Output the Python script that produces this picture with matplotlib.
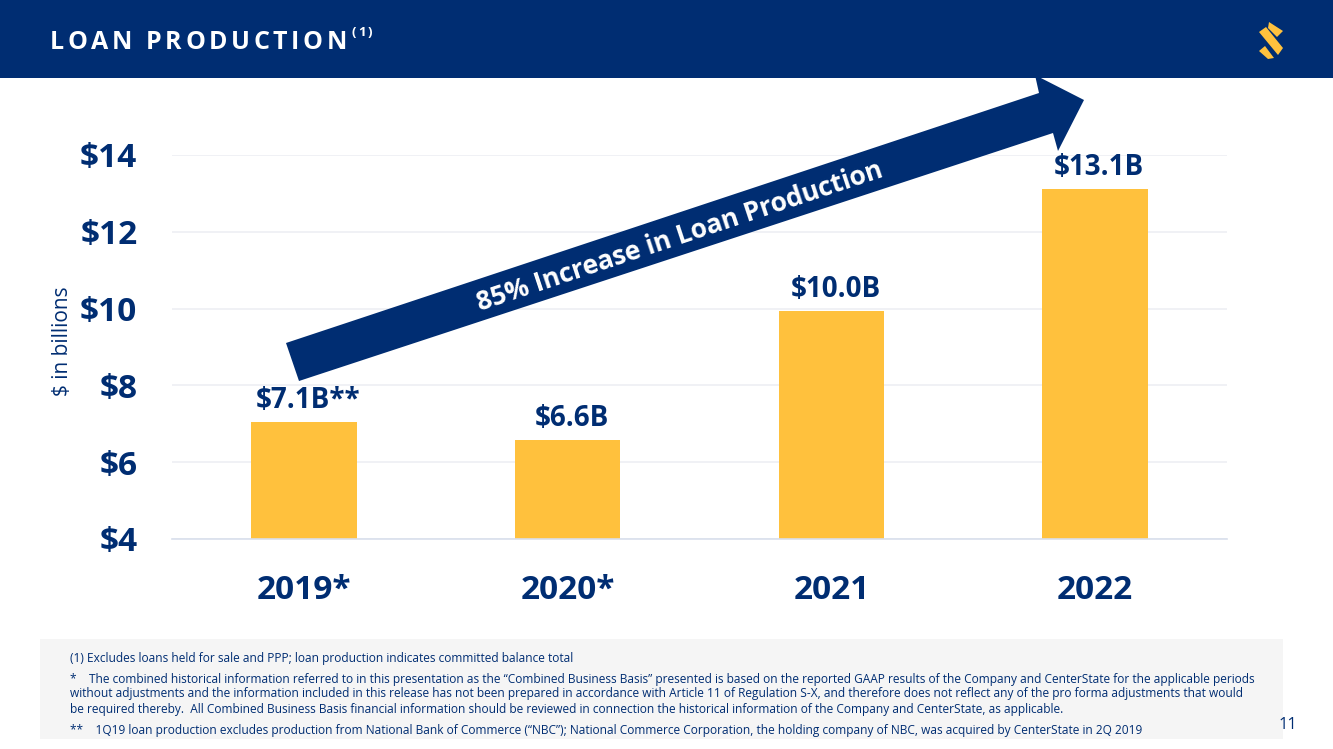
import matplotlib
matplotlib.use('Agg')
import matplotlib.pyplot as plt
from matplotlib.patches import Polygon, Rectangle

plt.rcParams['font.family'] = ['Open Sans', 'DejaVu Sans']

years = ['2019*', '2020*', '2021', '2022']
loan_production = [7.05, 6.58, 9.95, 13.12]
value_labels = ['$7.1B**', '$6.6B', '$10.0B', '$13.1B']
y_ticks = [4, 6, 8, 10, 12, 14]
y_tick_labels = ['$4', '$6', '$8', '$10', '$12', '$14']

title = 'LOAN PRODUCTION'
arrow_text = '85% Increase in Loan Production'
footnotes = [
    (661, '(1) Excludes loans held for sale and PPP; loan production indicates committed balance total'),
    (682, '*    The combined historical information referred to in this presentation as the “Combined Business Basis” presented is based on the reported GAAP results of the Company and CenterState for the applicable periods'),
    (696, 'without adjustments and the information included in this release has not been prepared in accordance with Article 11 of Regulation S-X, and therefore does not reflect any of the pro forma adjustments that would'),
    (711.5, 'be required thereby.  All Combined Business Basis financial information should be reviewed in connection the historical information of the Company and CenterState, as applicable.'),
    (733, '**    1Q19 loan production excludes production from National Bank of Commerce (“NBC”); National Commerce Corporation, the holding company of NBC, was acquired by CenterState in 2Q 2019'),
]

navy = '#002D72'
gold = '#FFC13D'
W, H = 1333, 749

fig = plt.figure(figsize=(W / 100, H / 100), dpi=100, facecolor='white')

######### chart
ax = fig.add_axes([172 / W, (H - 539) / H, 1055 / W, 384 / H])
ax.bar(range(len(years)), loan_production, width=0.4, color=gold, zorder=2)
for i, label in enumerate(value_labels):
    ax.annotate(label, (i, loan_production[i]), xytext=(3, 5), textcoords='offset points',
                ha='center', va='bottom', fontsize=20, fontweight='bold', color=navy, zorder=3)
ax.set_xlim(-0.5, 3.5)
ax.set_ylim(4, 14)
ax.set_yticks(y_ticks)
ax.set_yticklabels(y_tick_labels, fontsize=24, fontweight='bold', color=navy)
ax.set_xticks(range(len(years)))
ax.set_xticklabels(years, fontsize=24, fontweight='bold', color=navy)
ax.tick_params(axis='both', length=0)
ax.tick_params(axis='x', pad=25)
ax.tick_params(axis='y', pad=25)
ax.grid(axis='y', color='#EDEFF4', lw=1.2, zorder=0)
ax.set_axisbelow(True)
for s in ['top', 'right', 'left']:
    ax.spines[s].set_visible(False)
ax.spines['bottom'].set_color('#D9DFEC')
ax.spines['bottom'].set_linewidth(1.2)

######### overlay in pixel coordinates
ov = fig.add_axes([0, 0, 1, 1], facecolor='none')
ov.set_xlim(0, W)
ov.set_ylim(H, 0)
ov.axis('off')

ov.add_patch(Rectangle((0, 0), W, 78, color=navy, lw=0))
ov.add_patch(Rectangle((40, 639), 1243, 100, color='#F5F5F5', lw=0))

fig.canvas.draw()
renderer = fig.canvas.get_renderer()


def spaced_text(x, y, s, size, gap, space_w=6):
    # matplotlib has no letter spacing, place the characters one by one
    for ch in s:
        t = ov.text(x, y, ch, color='white', fontsize=size, fontweight='bold', va='baseline', ha='left')
        w = t.get_window_extent(renderer).width if ch != ' ' else space_w
        x += w + gap
    return x


x_end = spaced_text(50, 49, title, 18, 3.6)
spaced_text(x_end + 1, 36, '(1)', 9.5, 2.2)

# logo
for pts in [[(1269, 22), (1283, 31), (1277, 37), (1268, 28)],
            [(1259, 32), (1266, 27), (1283, 48), (1278, 55)],
            [(1259, 51), (1265, 46), (1274, 58), (1268, 59)]]:
    ov.add_patch(Polygon(pts, closed=True, color=gold, lw=0, joinstyle='round'))

# big arrow
ov.add_patch(Polygon([(286, 343), (1039, 93), (1035, 75), (1084, 100),
                      (1058, 151), (1053, 133), (299, 381)],
                     closed=True, color=navy, lw=0, zorder=4))
ov.text(680, 237, arrow_text, color='white', fontsize=19, fontweight='bold', rotation=18.4,
        rotation_mode='anchor', ha='center', va='center', zorder=5)

ov.text(62, 341, '$ in billions', color=navy, fontsize=15, rotation=90, ha='center', va='center')

for y, line in footnotes:
    ov.text(70, y - 2.5, line, color=navy, fontsize=8.55, va='center', ha='left')
ov.text(1288, 725, '11', color=navy, fontsize=12, va='center', ha='center')

fig.savefig('out.png', dpi=100)
